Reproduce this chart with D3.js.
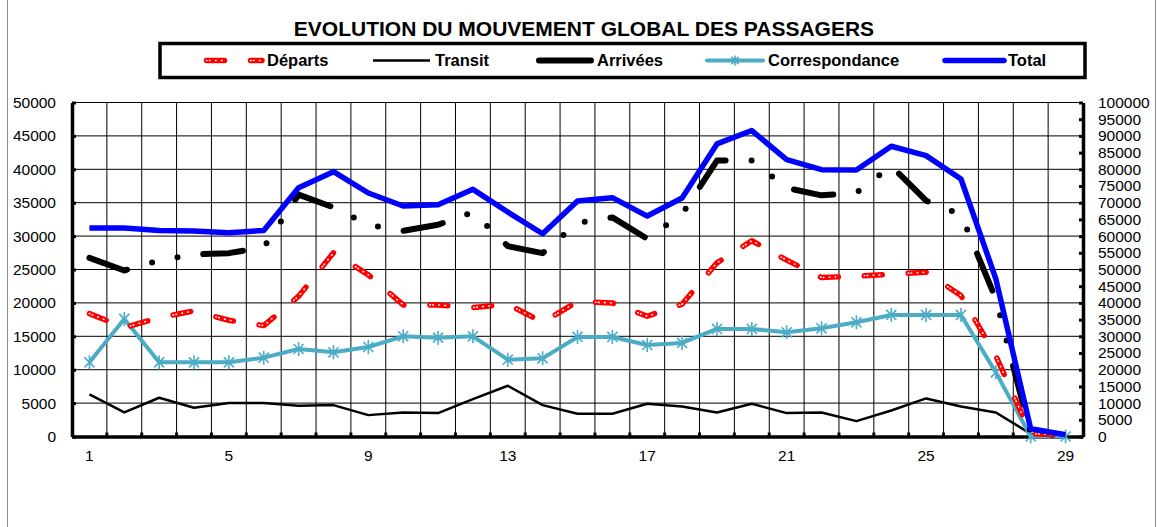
<!DOCTYPE html>
<html>
<head>
<meta charset="utf-8">
<script src="https://cdn.jsdelivr.net/npm/d3@7"></script>
<style>
  html, body { margin: 0; padding: 0; background: #fff; }
  svg { display: block; font-family: "Liberation Sans", Arial, sans-serif; }
</style>
</head>
<body>
<svg id="chart" width="1157" height="527"></svg>
<script>
// Daily passenger movements (days of the month)
const days = d3.range(1, 30);
const dayLabels = [1, 5, 9, 13, 17, 21, 25, 29];

const departs = [18400, 16300, 17800, 18800, 17400, 16600, 21000, 27500, 24200, 19700,
                 19700, 19300, 19800, 17100, 20200, 20000, 18000, 19800, 26000, 29300,
                 26400, 23800, 24000, 24300, 24600, 21100, 12100, 400, 250];
const transit = [6300, 3600, 5800, 4300, 5000, 5000, 4600, 4700, 3200, 3600,
                 3500, 5600, 7600, 4700, 3400, 3400, 4900, 4500, 3600, 4900,
                 3500, 3600, 2300, 3900, 5700, 4500, 3600, 400, 200];
const arrivees = [26750, 24850, 26350, 27250, 27450, 28300, 36200, 34300, 31700, 30800,
                  31700, 33600, 28500, 27450, 32000, 32800, 29600, 33300, 41300, 41300,
                  37200, 36100, 36500, 40500, 35300, 33200, 20600, 400, 200];
const correspondance = [11100, 17600, 11100, 11100, 11100, 11800, 13100, 12600, 13400, 15000,
                        14800, 15000, 11500, 11700, 14900, 14900, 13700, 14000, 16100, 16100,
                        15600, 16200, 17100, 18200, 18200, 18200, 9600, 0, 0];
// Total is read on the secondary (right) axis
const total = [62400, 62400, 61700, 61500, 61000, 61700, 74500, 79300, 72900, 69000,
               69400, 74000, 67200, 60700, 70500, 71500, 66000, 71400, 87600, 91600,
               82900, 79900, 79800, 86900, 84100, 77100, 47200, 2300, 500];

const leftTicks = d3.range(0, 50001, 5000);
const rightTicks = d3.range(0, 100001, 5000);

const svg = d3.select("#chart");
const pL = 72, pR = 1083, pT = 102.5, pB = 436.5;

const x = d3.scaleBand().domain(days).range([pL, pR]).padding(0);
const cx = d => x(d) + x.bandwidth() / 2;
const yL = d3.scaleLinear().domain([0, 50000]).range([pB, pT]);
const yR = d3.scaleLinear().domain([0, 100000]).range([pB, pT]);

// outer frame
svg.append("rect").attr("x", 7.5).attr("y", -2).attr("width", 1148).attr("height", 540)
  .attr("fill", "none").attr("stroke", "#8c8c8c").attr("stroke-width", 1);

// title
svg.append("text").attr("x", 584).attr("y", 36).attr("text-anchor", "middle")
  .attr("font-size", "21px").attr("font-weight", "bold").attr("fill", "#000")
  .text("EVOLUTION DU MOUVEMENT GLOBAL DES PASSAGERS");

// grid
const grid = svg.append("g");
grid.append("g").selectAll("line").data(leftTicks.slice(1)).join("line")
  .attr("x1", pL).attr("x2", pR).attr("y1", d => yL(d)).attr("y2", d => yL(d))
  .attr("stroke", "#000").attr("stroke-width", 1);
grid.append("g").selectAll("line").data(days.slice(1)).join("line")
  .attr("x1", d => x(d)).attr("x2", d => x(d)).attr("y1", pT).attr("y2", pB)
  .attr("stroke", "#000").attr("stroke-width", 1);

// axes
const axL = svg.append("g").attr("transform", `translate(${pL},0)`)
  .call(d3.axisRight(yL).tickValues(leftTicks).tickSize(4).tickSizeOuter(0).tickFormat(""));
const axR = svg.append("g").attr("transform", `translate(${pR},0)`)
  .call(d3.axisLeft(yR).tickValues(rightTicks).tickSize(4).tickSizeOuter(0).tickFormat(""));
const axB = svg.append("g").attr("transform", `translate(0,${pB})`)
  .call(d3.axisTop(x).tickValues(days.slice(1)).tickSize(4).tickSizeOuter(0).tickFormat(""));
axB.selectAll(".tick").attr("transform", d => `translate(${x(d)},0)`);
[axL, axR, axB].forEach(g => {
  g.select(".domain").attr("stroke", "#000").attr("stroke-width", 3.5);
  g.selectAll(".tick line").attr("stroke", "#000").attr("stroke-width", 3);
});

// axis labels
svg.append("g").selectAll("text").data(leftTicks).join("text")
  .attr("x", 56).attr("y", d => yL(d)).attr("dy", "0.35em").attr("text-anchor", "end")
  .attr("font-size", "15.5px").attr("fill", "#000").text(d => d);
svg.append("g").selectAll("text").data(rightTicks).join("text")
  .attr("x", 1098).attr("y", d => yR(d)).attr("dy", "0.35em").attr("text-anchor", "start")
  .attr("font-size", "15.5px").attr("fill", "#000").text(d => d);
svg.append("g").selectAll("text").data(dayLabels).join("text")
  .attr("x", d => cx(d)).attr("y", 461).attr("text-anchor", "middle")
  .attr("font-size", "15.5px").attr("fill", "#000").text(d => d);

// series styles
const depDash = "18,26", depDots = "0.5,2.5,0.5,5.5,0.5,5.5,0.5,28.5";
const arrDash = "40,26,0,26,0,26";
const teal = "#4BACC6";

function star(g, px, py, r) {
  const a = r * 0.72;
  g.append("path")
    .attr("d", `M${px - a},${py - a}L${px + a},${py + a}M${px - a},${py + a}L${px + a},${py - a}M${px},${py - r}L${px},${py + r}`)
    .attr("stroke", teal).attr("stroke-width", 1.6).attr("fill", "none");
}

const lineL = d3.line().x((d, i) => cx(days[i])).y(d => yL(d));
const lineR = d3.line().x((d, i) => cx(days[i])).y(d => yR(d));
const plot = svg.append("g");

// Transit
plot.append("path").attr("d", lineL(transit)).attr("fill", "none")
  .attr("stroke", "#000").attr("stroke-width", 2.5).attr("stroke-linejoin", "round");
// Correspondance
plot.append("path").attr("d", lineL(correspondance)).attr("fill", "none")
  .attr("stroke", teal).attr("stroke-width", 4).attr("stroke-linejoin", "round");
const mk = plot.append("g");
correspondance.forEach((v, i) => star(mk, cx(days[i]), yL(v), 7));
// Arrivées
plot.append("path").attr("d", lineL(arrivees)).attr("fill", "none")
  .attr("stroke", "#000").attr("stroke-width", 6).attr("stroke-linecap", "round")
  .attr("stroke-linejoin", "round").attr("stroke-dasharray", arrDash);
// Départs
plot.append("path").attr("d", lineL(departs)).attr("fill", "none")
  .attr("stroke", "#ff0000").attr("stroke-width", 5.5).attr("stroke-linecap", "round")
  .attr("stroke-linejoin", "round").attr("stroke-dasharray", depDash);
plot.append("path").attr("d", lineL(departs)).attr("fill", "none")
  .attr("stroke", "#fff").attr("stroke-width", 1.6).attr("stroke-linecap", "round")
  .attr("stroke-dasharray", depDots);
// Total (right axis)
plot.append("path").attr("d", lineR(total)).attr("fill", "none")
  .attr("stroke", "#0000ff").attr("stroke-width", 5.5).attr("stroke-linejoin", "round");

// legend
const lg = svg.append("g");
lg.append("rect").attr("x", 160).attr("y", 43.5).attr("width", 925).attr("height", 34)
  .attr("fill", "#fff").attr("stroke", "#000").attr("stroke-width", 3.5);
const ly = 60.5;
const legendItems = [
  { name: "Départs", x1: 206.5, x2: 262, tx: 267 },
  { name: "Transit", x1: 373, x2: 430, tx: 435 },
  { name: "Arrivées", x1: 539, x2: 591, tx: 597 },
  { name: "Correspondance", x1: 707, x2: 763, tx: 768 },
  { name: "Total", x1: 945, x2: 1004, tx: 1008 }
];
legendItems.forEach(it => {
  const seg = lg.append("line").attr("x1", it.x1).attr("x2", it.x2).attr("y1", ly).attr("y2", ly);
  if (it.name === "Départs") {
    seg.attr("stroke", "#ff0000").attr("stroke-width", 5.5).attr("stroke-linecap", "round")
      .attr("stroke-dasharray", depDash);
    lg.append("line").attr("x1", it.x1).attr("x2", it.x2).attr("y1", ly).attr("y2", ly)
      .attr("stroke", "#fff").attr("stroke-width", 1.6).attr("stroke-linecap", "round")
      .attr("stroke-dasharray", depDots);
  } else if (it.name === "Transit") {
    seg.attr("stroke", "#000").attr("stroke-width", 2.5);
  } else if (it.name === "Arrivées") {
    seg.attr("stroke", "#000").attr("stroke-width", 6).attr("stroke-linecap", "round");
  } else if (it.name === "Correspondance") {
    seg.attr("stroke", teal).attr("stroke-width", 4).attr("stroke-linecap", "round");
    star(lg, (it.x1 + it.x2) / 2, ly, 5);
  } else {
    seg.attr("stroke", "#0000ff").attr("stroke-width", 5.5).attr("stroke-linecap", "round");
  }
  lg.append("text").attr("x", it.tx).attr("y", ly).attr("dy", "0.36em")
    .attr("font-size", "16.5px").attr("font-weight", "bold").attr("fill", "#000").text(it.name);
});
</script>
</body>
</html>
